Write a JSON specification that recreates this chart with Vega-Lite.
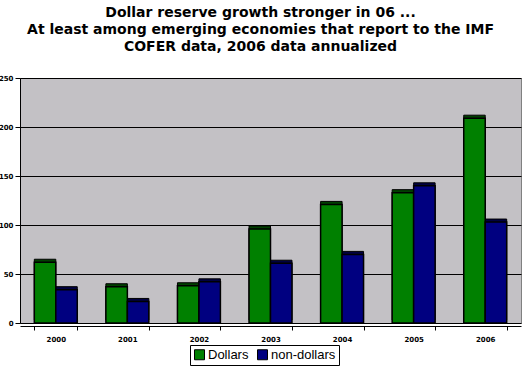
{
  "$schema": "https://vega.github.io/schema/vega-lite/v6.json",
  "autosize": {"type": "none"},
  "width": 501,
  "height": 245,
  "padding": {"left": 20, "right": 6, "top": 78, "bottom": 47},
  "background": "white",
  "title": {
    "text": ["Dollar reserve growth stronger in 06 ...", "At least among emerging economies that report to the IMF", "COFER data, 2006 data annualized"],
    "font": "DejaVu Sans",
    "fontSize": 14,
    "fontWeight": "bold",
    "color": "black",
    "lineHeight": 17,
    "anchor": "middle",
    "dx": -10,
    "offset": 20
  },
  "data": {
    "values": [
      {"year": "2000", "series": "Dollars", "value": 62},
      {"year": "2000", "series": "non-dollars", "value": 34},
      {"year": "2001", "series": "Dollars", "value": 37},
      {"year": "2001", "series": "non-dollars", "value": 22},
      {"year": "2002", "series": "Dollars", "value": 38},
      {"year": "2002", "series": "non-dollars", "value": 42},
      {"year": "2003", "series": "Dollars", "value": 96},
      {"year": "2003", "series": "non-dollars", "value": 61},
      {"year": "2004", "series": "Dollars", "value": 121},
      {"year": "2004", "series": "non-dollars", "value": 70},
      {"year": "2005", "series": "Dollars", "value": 133},
      {"year": "2005", "series": "non-dollars", "value": 140},
      {"year": "2006", "series": "Dollars", "value": 209},
      {"year": "2006", "series": "non-dollars", "value": 103}
    ]
  },
  "config": {
    "view": {"fill": "#C3C1C5", "stroke": "#808080"},
    "axis": {"labelFont": "DejaVu Sans", "labelFontWeight": "bold", "labelColor": "black", "domainColor": "black", "tickColor": "black"}
  },
  "encoding": {
    "x": {
      "field": "year", "type": "nominal", "title": null,
      "scale": {"paddingInner": 0.4, "paddingOuter": 0.2},
      "axis": {"labelAngle": 0, "labelFontSize": 7, "ticks": true, "tickBand": "extent", "tickSize": 4, "labelPadding": 5, "offset": 3}
    },
    "y": {
      "field": "value", "type": "quantitative", "title": null,
      "scale": {"domain": [0, 250], "nice": false},
      "axis": {"values": [0, 50, 100, 150, 200, 250], "labelFontSize": 7, "gridColor": "black", "gridOpacity": 1, "tickSize": 5, "labelPadding": 2}
    },
    "xOffset": {"field": "series", "type": "nominal", "scale": {"paddingInner": 0}},
    "color": {
      "field": "series", "type": "nominal",
      "scale": {"domain": ["Dollars", "non-dollars"], "range": ["#008000", "#000080"]},
      "legend": {
        "title": null, "orient": "none", "legendX": 170, "legendY": 267, "direction": "horizontal",
        "symbolType": "square", "symbolSize": 100, "symbolStrokeColor": "black", "symbolStrokeWidth": 1,
        "labelFont": "Liberation Sans", "labelFontSize": 13, "labelColor": "black",
        "strokeColor": "black", "padding": 3, "columnPadding": 6, "labelOffset": 2
      }
    }
  },
  "layer": [
    {
      "mark": {"type": "bar", "xOffset": 3, "yOffset": -3, "stroke": "black", "strokeWidth": 1},
      "encoding": {
        "color": {
          "field": "series", "type": "nominal",
          "scale": {"domain": ["Dollars", "non-dollars"], "range": ["#004000", "#000040"]},
          "legend": null
        }
      }
    },
    {
      "mark": {"type": "bar", "stroke": "black", "strokeWidth": 1.5, "opacity": 1}
    }
  ],
  "resolve": {"scale": {"color": "independent"}}
}
